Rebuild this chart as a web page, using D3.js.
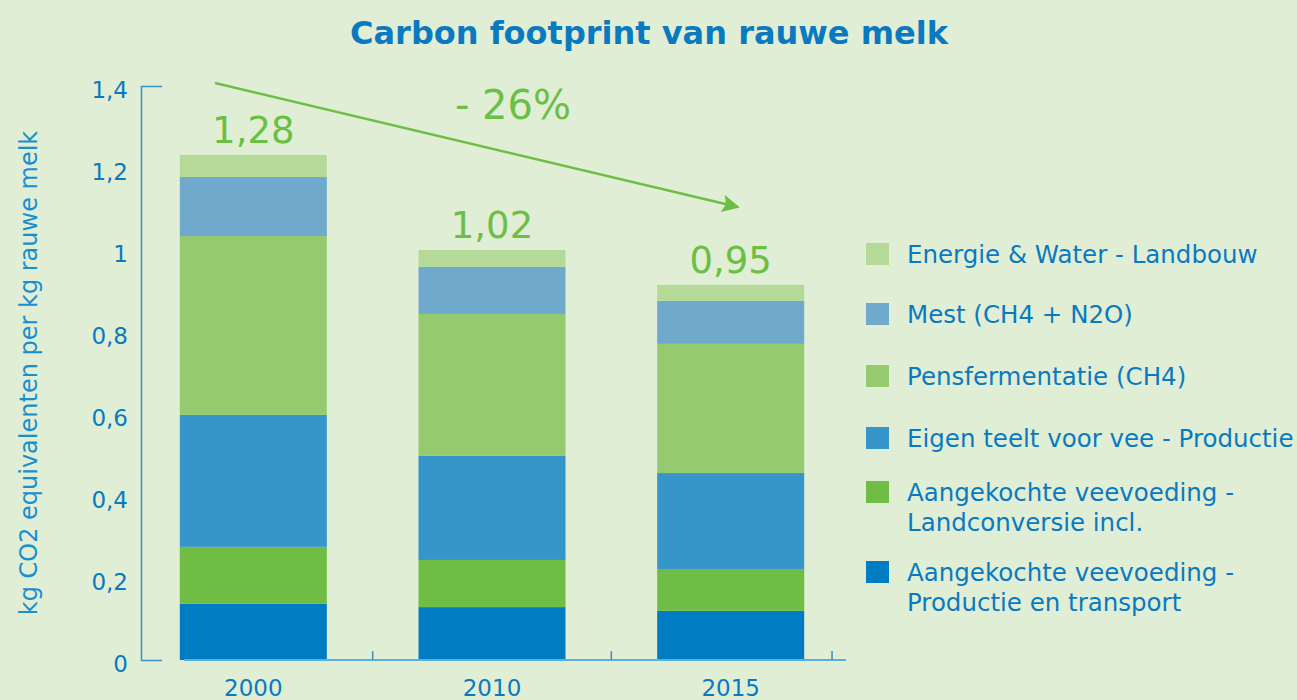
<!DOCTYPE html>
<html>
<head>
<meta charset="utf-8">
<script src="https://cdn.jsdelivr.net/npm/d3@7"></script>
<style>
  html, body { margin: 0; padding: 0; background: #e0eed6; }
  svg { display: block; font-family: "DejaVu Sans", Verdana, sans-serif; }
</style>
</head>
<body>
<svg id="chart"></svg>
<script>
// [A] Data ------------------------------------------------------------------
const years = ["2000", "2010", "2015"];
const totals = ["1,28", "1,02", "0,95"];

// bottom to top
const seriesNames = [
    "Aangekochte veevoeding - Productie en transport",
    "Aangekochte veevoeding - Landconversie incl.",
    "Eigen teelt voor vee - Productie",
    "Pensfermentatie (CH4)",
    "Mest (CH4 + N2O)",
    "Energie & Water - Landbouw"
];
const productieTransport = [0.137, 0.129, 0.120];
const landconversie = [0.139, 0.115, 0.102];
const eigenTeelt = [0.322, 0.254, 0.234];
const pensfermentatie = [0.436, 0.346, 0.315];
const mest = [0.144, 0.115, 0.105];
const energieWater = [0.054, 0.041, 0.039];

const seriesColors = ["#007cc2", "#70bd45", "#3796c9", "#95cb6e", "#6faacd", "#b5da98"];

// legend (top to bottom), lines of text
const legendLines = [
    ["Energie & Water - Landbouw"],
    ["Mest (CH4 + N2O)"],
    ["Pensfermentatie (CH4)"],
    ["Eigen teelt voor vee - Productie"],
    ["Aangekochte veevoeding -", "Landconversie incl."],
    ["Aangekochte veevoeding -", "Productie en transport"]
];
const legendColors = ["#b5da98", "#6faacd", "#95cb6e", "#3796c9", "#70bd45", "#007cc2"];

const yTicks = [0, 0.2, 0.4, 0.6, 0.8, 1, 1.2, 1.4];

// [B] Setup -----------------------------------------------------------------
const width = 1297, height = 700;
const blue = "#0a7ac0";
const green = "#6cbf44";

const svg = d3.select("#chart").attr("width", width).attr("height", height);
svg.append("rect").attr("width", width).attr("height", height).attr("fill", "#e0eed6");

const x = d3.scaleBand().domain(years).range([144, 840]).paddingInner(0.384).paddingOuter(0.15);
const y = d3.scaleLinear().domain([0, 1.4]).range([660, 86]);

// [C] Stacked bars ----------------------------------------------------------
const table = years.map((yr, i) => ({
    year: yr,
    s0: productieTransport[i], s1: landconversie[i], s2: eigenTeelt[i],
    s3: pensfermentatie[i], s4: mest[i], s5: energieWater[i]
}));
const stack = d3.stack().keys(["s0", "s1", "s2", "s3", "s4", "s5"]);
const layers = stack(table);

svg.append("g").selectAll("g")
    .data(layers)
    .join("g")
    .attr("fill", (d, i) => seriesColors[i])
    .selectAll("rect")
    .data(d => d)
    .join("rect")
    .attr("x", d => x(d.data.year))
    .attr("width", x.bandwidth())
    .attr("y", d => y(d[1]))
    .attr("height", d => y(d[0]) - y(d[1]));

// totals above bars
svg.append("g").selectAll("text")
    .data(table)
    .join("text")
    .attr("x", d => x(d.year) + x.bandwidth() / 2)
    .attr("y", (d, i) => y(layers[5][i][1]) - 12)
    .attr("text-anchor", "middle")
    .attr("font-size", 37)
    .attr("fill", green)
    .text((d, i) => totals[i]);

// [D] Axes ------------------------------------------------------------------
const yAxis = svg.append("g")
    .attr("transform", "translate(141,0)")
    .call(d3.axisLeft(y).tickValues(yTicks).tickSize(0).tickSizeOuter(-21).tickPadding(13)
        .tickFormat(d => String(d).replace(".", ",")));
yAxis.select(".domain").attr("stroke", "#3a8fc4").attr("stroke-width", 1.5);
yAxis.selectAll(".tick text").attr("font-size", 23).attr("fill", blue)
    .attr("font-family", "DejaVu Sans").attr("dy", "0.5em");

const xAxis = svg.append("g")
    .attr("transform", "translate(0,660)")
    .call(d3.axisBottom(x).tickSize(0).tickSizeOuter(0).tickPadding(20));
xAxis.select(".domain").attr("d", "M184,0H846").attr("stroke", "#5ab0da").attr("stroke-width", 2);
xAxis.selectAll(".tick text").attr("font-size", 23).attr("fill", blue).attr("font-family", "DejaVu Sans");

// boundary ticks between bands
const bounds = years.slice(1).map(yr => x(yr) - x.step() * x.paddingInner() / 2)
    .concat([x(years[2]) + x.bandwidth() + x.step() * x.paddingInner() / 2 - 18]);
xAxis.selectAll(".bound")
    .data(bounds)
    .join("line")
    .attr("class", "bound")
    .attr("x1", d => d).attr("x2", d => d)
    .attr("y1", -9).attr("y2", 0)
    .attr("stroke", "#3a8fc4").attr("stroke-width", 1.5);

// y axis title
svg.append("text")
    .attr("transform", "translate(29,373) rotate(-90)")
    .attr("text-anchor", "middle")
    .attr("dominant-baseline", "central")
    .attr("font-size", 24)
    .attr("fill", "#1a8fd0")
    .text("kg CO2 equivalenten per kg rauwe melk");

// [E] Title -----------------------------------------------------------------
svg.append("text")
    .attr("x", 649).attr("y", 44)
    .attr("text-anchor", "middle")
    .attr("font-size", 32)
    .attr("font-weight", "bold")
    .attr("fill", "#0a7ac0")
    .text("Carbon footprint van rauwe melk");

// [F] Trend arrow -----------------------------------------------------------
svg.append("defs").append("marker")
    .attr("id", "arrow")
    .attr("viewBox", "0 0 10 10")
    .attr("refX", 9).attr("refY", 5)
    .attr("markerWidth", 8).attr("markerHeight", 7)
    .attr("markerUnits", "strokeWidth")
    .attr("orient", "auto")
    .append("path")
    .attr("d", "M0,0L10,5L0,10L2,5Z")
    .attr("fill", green);

svg.append("line")
    .attr("x1", 215).attr("y1", 83)
    .attr("x2", 738).attr("y2", 207)
    .attr("stroke", green)
    .attr("stroke-width", 2.5)
    .attr("marker-end", "url(#arrow)");

svg.append("text")
    .attr("x", 513).attr("y", 119)
    .attr("text-anchor", "middle")
    .attr("font-size", 40)
    .attr("fill", green)
    .text("- 26%");

// [G] Legend ----------------------------------------------------------------
const legendY = [254, 314, 376, 438, 492, 572];
const legend = svg.append("g").selectAll("g")
    .data(legendLines)
    .join("g")
    .attr("transform", (d, i) => `translate(866,${legendY[i]})`);

legend.append("rect")
    .attr("x", 0).attr("y", -11)
    .attr("width", 23).attr("height", 22)
    .attr("fill", (d, i) => legendColors[i]);

legend.append("text")
    .attr("font-size", 24.5)
    .attr("fill", blue)
    .selectAll("tspan")
    .data(d => d)
    .join("tspan")
    .attr("x", 41)
    .attr("y", (d, i) => 9 + i * 30)
    .text(d => d);
</script>
</body>
</html>
